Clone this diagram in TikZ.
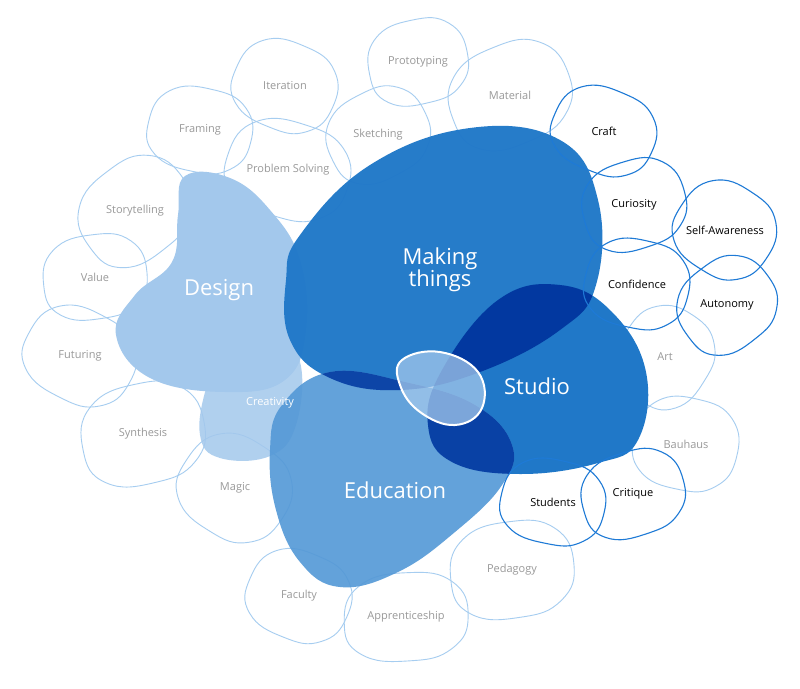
\documentclass[tikz,border=0pt]{standalone}
\usepackage{fontspec}
\setmainfont{Open Sans}
\begin{document}
\begin{tikzpicture}[x=1pt,y=-1pt,
  lt/.style={draw=lightline,line width=0.9pt},
  dk/.style={draw=darkline,line width=1.1pt},
  gt/.style={text=gray!80,font=\fontsize{11}{13}\selectfont},
  bt/.style={text=black,font=\fontsize{11}{13}\selectfont},
  big/.style={text=white,font=\fontsize{22}{26}\selectfont,align=center}]
\definecolor{lightline}{HTML}{A6CDF0}
\definecolor{darkline}{HTML}{1E7AD6}
\definecolor{designc}{HTML}{A3C8EC}
\definecolor{makec}{HTML}{2078C8}
\definecolor{deep}{HTML}{0238A0}
\definecolor{educ}{HTML}{5398D6}
\useasboundingbox (0,0) rectangle (800,688);
\fill[white] (0,0) rectangle (800,688);
\newcommand\blobA[6]{\draw[#1,shift={(#2)},rotate=#5] plot[smooth cycle,tension=0.8] coordinates {(#3,0.1*#4)(0.7*#3,0.8*#4)(0,#4)(-0.78*#3,0.75*#4)(-#3,0)(-0.7*#3,-0.8*#4)(0.1*#3,-#4)(0.8*#3,-0.7*#4)}; \node[#6] at (#2) {};}
% small light blobs
\def\sb#1#2#3#4#5#6{\blobA{lt}{#2}{#3}{#4}{#5}{inner sep=0}\node[gt] (#1) at (#2) {#6};}
\sb{it}{285,86}{52}{44}{-20}{Iteration}
\sb{pr}{418,62}{50}{42}{15}{Prototyping}
\sb{ma}{510,95}{62}{50}{25}{Material}
\sb{fr}{200,130}{52}{42}{-10}{Framing}
\sb{sk}{378,135}{52}{44}{30}{Sketching}
\sb{ps}{288,170}{62}{48}{-15}{Problem Solving}
\sb{st}{135,211}{58}{48}{40}{Storytelling}
\sb{va}{95,277}{52}{42}{10}{Value}
\sb{fu}{80,356}{56}{46}{-25}{Futuring}
\sb{sy}{143,434}{62}{50}{15}{Synthesis}
\sb{mg}{235,488}{56}{50}{-30}{Magic}
\sb{ar}{665,357}{50}{46}{60}{Art}
\sb{ba}{686,444}{52}{46}{-10}{Bauhaus}
\sb{pe}{512,570}{62}{48}{10}{Pedagogy}
\sb{fa}{299,596}{52}{44}{-20}{Faculty}
\sb{ap}{406,617}{62}{44}{5}{Apprenticeship}
% Design
\fill[designc] plot[smooth cycle,tension=0.7] coordinates {(185,176)(230,178)(270,210)(300,260)(306,330)(285,380)(225,392)(150,378)(116,335)(135,295)(172,262)(178,215)};
\fill[designc,opacity=0.85] plot[smooth cycle,tension=0.7] coordinates {(225,348)(272,338)(300,362)(296,425)(270,456)(220,458)(200,435)(207,385)};
% Making things
\def\mk{plot[smooth cycle,tension=0.7] coordinates {(300,235)(370,165)(470,128)(560,140)(598,200)(596,285)(560,330)(480,372)(400,390)(330,378)(290,340)(286,280)}}
\def\stu{plot[smooth cycle,tension=0.7] coordinates {(498,300)(560,285)(612,312)(646,372)(638,440)(598,463)(520,474)(452,462)(428,425)(442,370)}}
\def\edu{plot[smooth cycle,tension=0.7] coordinates {(282,405)(330,372)(405,382)(475,405)(512,445)(502,485)(455,532)(398,572)(340,587)(300,562)(276,510)(270,450)}}
\fill[makec,opacity=0.97] \mk;
\fill[makec] \stu;
\begin{scope}\clip \mk; \fill[deep] \stu; \end{scope}
\fill[educ,opacity=0.9] \edu;
\begin{scope}\clip \edu; \clip \mk; \fill[deep,opacity=0.85] \mk; \end{scope}
\begin{scope}\clip \edu; \clip \stu; \fill[deep,opacity=0.9] \stu; \end{scope}
% center
\draw[white,line width=2pt,fill=designc,fill opacity=0.75] plot[smooth cycle,tension=0.7] coordinates {(402,360)(440,352)(478,372)(482,408)(455,425)(420,412)(400,385)};
% dark blobs
\def\db#1#2#3#4#5#6{\blobA{dk}{#2}{#3}{#4}{#5}{inner sep=0}\node[bt] (#1) at (#2) {#6};}
\db{cr}{604,131}{52}{42}{-20}{Craft}
\db{cu}{634,205}{52}{44}{20}{Curiosity}
\db{sa}{725,230}{50}{46}{-30}{Self-Awareness}
\db{co}{637,284}{52}{44}{-10}{Confidence}
\db{au}{727,305}{50}{44}{40}{Autonomy}
\db{su}{553,502}{52}{42}{-10}{Students}
\db{cq}{633,494}{52}{42}{20}{Critique}
% big labels
\node[big] (dn) at (219,290) {Design};
\node[big] (mt) at (440,270) {Making\\[-4pt]things};
\node[big] (sn) at (537,386) {Studio};
\node[big] (en) at (395,490) {Education};
\node[text=white,font=\fontsize{11}{13}\selectfont] (cv) at (270,403) {Creativity};
\end{tikzpicture}
\end{document}
